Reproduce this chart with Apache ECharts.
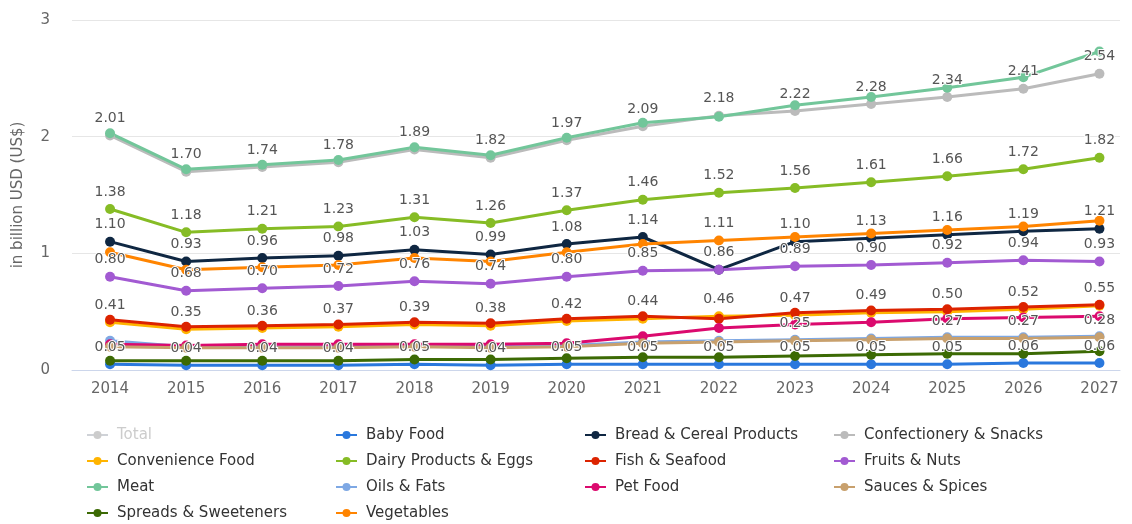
<!DOCTYPE html>
<html>
<head>
<meta charset="utf-8">
<script src="https://cdn.jsdelivr.net/npm/echarts@6/dist/echarts.min.js"></script>
<style>
html,body{margin:0;padding:0;background:#fff;}
#chart{width:1132px;height:524px;}
</style>
</head>
<body>
<div id="chart"></div>
<script>
const YEARS = [2014, 2015, 2016, 2017, 2018, 2019, 2020, 2021, 2022, 2023, 2024, 2025, 2026, 2027];
const Y_TICKS = [0, 1, 2, 3];

const TOTAL          = [9.97, 8.51, 8.70, 8.85, 9.30, 9.05, 9.80, 10.50, 10.60, 11.10, 11.40, 11.75, 12.10, 12.80];
const BABY_FOOD      = [0.05, 0.04, 0.04, 0.04, 0.05, 0.04, 0.05, 0.05, 0.05, 0.05, 0.05, 0.05, 0.06, 0.06];
const BREAD          = [1.10, 0.93, 0.96, 0.98, 1.03, 0.99, 1.08, 1.14, 0.86, 1.10, 1.13, 1.16, 1.19, 1.21];
const CONFECTIONERY  = [2.01, 1.70, 1.74, 1.78, 1.89, 1.82, 1.97, 2.09, 2.18, 2.22, 2.28, 2.34, 2.41, 2.54];
const CONVENIENCE    = [0.41, 0.35, 0.36, 0.37, 0.39, 0.38, 0.42, 0.44, 0.46, 0.47, 0.49, 0.50, 0.52, 0.55];
const DAIRY          = [1.38, 1.18, 1.21, 1.23, 1.31, 1.26, 1.37, 1.46, 1.52, 1.56, 1.61, 1.66, 1.72, 1.82];
const FISH           = [0.43, 0.37, 0.38, 0.39, 0.41, 0.40, 0.44, 0.46, 0.44, 0.49, 0.51, 0.52, 0.54, 0.56];
const FRUITS         = [0.80, 0.68, 0.70, 0.72, 0.76, 0.74, 0.80, 0.85, 0.86, 0.89, 0.90, 0.92, 0.94, 0.93];
const MEAT           = [2.03, 1.72, 1.76, 1.80, 1.91, 1.84, 1.99, 2.12, 2.17, 2.27, 2.34, 2.42, 2.51, 2.73];
const OILS           = [0.25, 0.20, 0.20, 0.20, 0.21, 0.20, 0.21, 0.24, 0.25, 0.26, 0.27, 0.28, 0.28, 0.29];
const PET_FOOD       = [0.22, 0.21, 0.22, 0.22, 0.22, 0.22, 0.23, 0.29, 0.36, 0.39, 0.41, 0.44, 0.45, 0.46];
const SAUCES         = [0.20, 0.19, 0.19, 0.19, 0.20, 0.19, 0.20, 0.23, 0.24, 0.25, 0.26, 0.27, 0.27, 0.28];
const SPREADS        = [0.08, 0.08, 0.08, 0.08, 0.09, 0.09, 0.10, 0.11, 0.11, 0.12, 0.13, 0.14, 0.14, 0.16];
const VEGETABLES     = [1.01, 0.86, 0.88, 0.90, 0.96, 0.93, 1.01, 1.08, 1.11, 1.14, 1.17, 1.20, 1.23, 1.28];

// which points carry a visible value label (1 = shown)
const ALL  = [1,1,1,1,1,1,1,1,1,1,1,1,1,1];
const NONE = [0,0,0,0,0,0,0,0,0,0,0,0,0,0];
const LBL_FRUITS = [1,1,1,1,1,1,1,1,0,1,1,1,1,1];
const LBL_VEG    = [0,0,0,0,0,0,0,0,1,0,0,0,0,0];
const LBL_SAUCES = [0,0,0,0,0,0,0,0,0,1,0,1,1,1];

const SERIES_DEF = [
  ['Total', '#c9c9c9', TOTAL, NONE],
  ['Baby Food', '#2a78dd', BABY_FOOD, ALL],
  ['Bread & Cereal Products', '#0f2742', BREAD, ALL],
  ['Confectionery & Snacks', '#bbbbbb', CONFECTIONERY, ALL],
  ['Convenience Food', '#ffb400', CONVENIENCE, ALL],
  ['Dairy Products & Eggs', '#86bc25', DAIRY, ALL],
  ['Fish & Seafood', '#dc2300', FISH, NONE],
  ['Fruits & Nuts', '#a25ad2', FRUITS, LBL_FRUITS],
  ['Meat', '#72c69a', MEAT, NONE],
  ['Oils & Fats', '#7ea8e4', OILS, NONE],
  ['Pet Food', '#db0a6e', PET_FOOD, NONE],
  ['Sauces & Spices', '#c8a06d', SAUCES, LBL_SAUCES],
  ['Spreads & Sweeteners', '#3c6a04', SPREADS, NONE],
  ['Vegetables', '#ff8400', VEGETABLES, LBL_VEG]
];

const LEGEND_COLS = [
  ['Total', 'Convenience Food', 'Meat', 'Spreads & Sweeteners'],
  ['Baby Food', 'Dairy Products & Eggs', 'Oils & Fats', 'Vegetables'],
  ['Bread & Cereal Products', 'Fish & Seafood', 'Pet Food'],
  ['Confectionery & Snacks', 'Fruits & Nuts', 'Sauces & Spices']
];
const LEGEND_LEFT = [86, 335, 584, 833];

const FONT = '"DejaVu Sans", Verdana, sans-serif';

const series = SERIES_DEF.map(([name, color, vals, flags]) => ({
  name: name,
  type: 'line',
  color: color,
  symbol: 'circle',
  symbolSize: 10,
  showSymbol: true,
  lineStyle: { width: 3, color: color },
  itemStyle: { color: color },
  emphasis: { disabled: true },
  label: {
    position: 'top',
    distance: 5,
    fontFamily: FONT,
    fontSize: 14,
    color: '#555555',
    textBorderColor: '#ffffff',
    textBorderWidth: 2,
    formatter: p => p.value[1].toFixed(2)
  },
  data: vals.map((v, i) => ({ value: [YEARS[i], v], label: { show: !!flags[i] } }))
}));

const legends = LEGEND_COLS.map((col, k) => ({
  data: col,
  orient: 'vertical',
  left: LEGEND_LEFT[k],
  top: 426,
  padding: 0,
  itemGap: 8,
  itemWidth: 21,
  itemHeight: 10,
  inactiveColor: '#cccccc',
  selectedMode: true,
  selected: k === 0 ? { 'Total': false } : undefined,
  textStyle: { fontFamily: FONT, fontSize: 15, color: '#333333', lineHeight: 18, padding: [0, 0, 0, 4] }
}));

const chart = echarts.init(document.getElementById('chart'));
chart.setOption({
  animation: false,
  backgroundColor: '#ffffff',
  textStyle: { fontFamily: FONT },
  grid: { left: 72, right: 12, top: 20, bottom: 154, containLabel: false },
  legend: legends,
  xAxis: {
    type: 'value',
    min: 2013.5,
    max: 2027.27,
    interval: 0.5,
    axisLine: { show: true, lineStyle: { color: '#ccd6eb', width: 1 } },
    axisTick: { show: false },
    splitLine: { show: false },
    axisLabel: {
      fontFamily: FONT, fontSize: 15, color: '#666666', margin: 12,
      showMinLabel: true, showMaxLabel: true,
      formatter: v => (YEARS.indexOf(Math.round(v * 2) / 2) >= 0 ? String(Math.round(v)) : '')
    }
  },
  yAxis: {
    type: 'value',
    min: Y_TICKS[0],
    max: Y_TICKS[Y_TICKS.length - 1],
    interval: 1,
    name: 'in billion USD (US$)',
    nameLocation: 'middle',
    nameGap: 46,
    nameTextStyle: { fontFamily: FONT, fontSize: 15, color: '#666666' },
    axisLine: { show: false },
    axisTick: { show: false },
    splitLine: { lineStyle: { color: '#e6e6e6', width: 1 } },
    axisLabel: { fontFamily: FONT, fontSize: 15, color: '#666666', margin: 22 }
  },
  series: series
});
</script>
</body>
</html>
